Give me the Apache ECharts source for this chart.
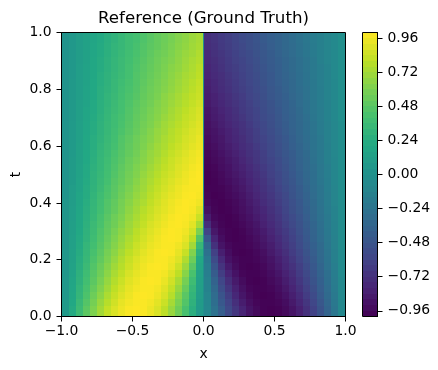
<!DOCTYPE html>
<html>
<head>
<meta charset="utf-8">
<style>
  html, body { margin: 0; padding: 0; background: #fff; }
  #chart { width: 438px; height: 370px; }
</style>
<script src="https://cdn.jsdelivr.net/npm/echarts@6/dist/echarts.min.js"></script>
</head>
<body>
<div id="chart"></div>
<script>
// column edges in x, with a thin column on the shock at x = 0
var xEdges = [-1, -0.95, -0.9, -0.85, -0.8, -0.75, -0.7, -0.65, -0.6, -0.55, -0.5, -0.45, -0.4, -0.35, -0.3, -0.25, -0.2, -0.15, -0.1, -0.05, -0.006,
  0.006, 0.05, 0.1, 0.15, 0.2, 0.25, 0.3, 0.35, 0.4, 0.45, 0.5, 0.55, 0.6, 0.65, 0.7, 0.75, 0.8, 0.85, 0.9, 0.95, 1]
var tEdges = [0, 0.0375, 0.0625, 0.0875, 0.1125, 0.1375, 0.1625, 0.1875, 0.2125, 0.2375, 0.2625, 0.2875, 0.3125, 0.3375, 0.3625, 0.3875, 0.4125, 0.4375, 0.4625, 0.4875,
  0.5125, 0.5375, 0.5625, 0.5875, 0.6125, 0.6375, 0.6625, 0.6875, 0.7125, 0.7375, 0.7625, 0.7875, 0.8125, 0.8375, 0.8625, 0.8875, 0.9125, 0.9375, 0.9625, 1]

// u(x, t), one row per t band from the bottom up
var uRows = [
  [.07,.22,.36,.49,.61,.72,.82,.89,.95,.99,1,.99,.95,.89,.80,.69,.56,.41,.25,.08,0,-.08,-.25,-.41,-.56,-.69,-.80,-.89,-.95,-.99,-1,-.99,-.95,-.89,-.82,-.72,-.61,-.49,-.36,-.22,-.07],
  [.07,.20,.34,.46,.58,.69,.78,.86,.93,.97,.99,.99,.97,.92,.84,.73,.60,.45,.28,.09,0,-.09,-.28,-.45,-.60,-.73,-.84,-.92,-.97,-.99,-.99,-.97,-.93,-.86,-.78,-.69,-.58,-.46,-.34,-.20,-.07],
  [.06,.19,.31,.43,.55,.65,.75,.83,.90,.95,.99,1,.99,.95,.88,.78,.64,.48,.30,.10,0,-.10,-.30,-.48,-.64,-.78,-.88,-.95,-.99,-1,-.99,-.95,-.90,-.83,-.75,-.65,-.55,-.43,-.31,-.19,-.06],
  [.06,.18,.30,.41,.52,.62,.71,.80,.87,.93,.97,.99,.99,.97,.91,.82,.69,.53,.33,.12,0,-.12,-.33,-.53,-.69,-.82,-.91,-.97,-.99,-.99,-.97,-.93,-.87,-.80,-.71,-.62,-.52,-.41,-.30,-.18,-.06],
  [.06,.17,.28,.39,.49,.59,.68,.77,.84,.91,.95,.99,1,.99,.94,.86,.74,.58,.37,.13,0,-.13,-.37,-.58,-.74,-.86,-.94,-.99,-1,-.99,-.95,-.91,-.84,-.77,-.68,-.59,-.49,-.39,-.28,-.17,-.06],
  [.05,.16,.27,.37,.47,.56,.65,.74,.81,.88,.93,.97,.99,.99,.97,.90,.80,.64,.42,.15,0,-.15,-.42,-.64,-.80,-.90,-.97,-.99,-.99,-.97,-.93,-.88,-.81,-.74,-.65,-.56,-.47,-.37,-.27,-.16,-.05],
  [.05,.15,.25,.35,.45,.54,.63,.71,.78,.85,.91,.96,.99,1,.99,.94,.85,.70,.48,.17,0,-.17,-.48,-.70,-.85,-.94,-.99,-1,-.99,-.96,-.91,-.85,-.78,-.71,-.63,-.54,-.45,-.35,-.25,-.15,-.05],
  [.05,.14,.24,.33,.43,.51,.60,.68,.76,.83,.89,.94,.97,.99,.99,.96,.90,.76,.55,.20,0,-.20,-.55,-.76,-.90,-.96,-.99,-.99,-.97,-.94,-.89,-.83,-.76,-.68,-.60,-.51,-.43,-.33,-.24,-.14,-.05],
  [.05,.14,.23,.32,.41,.49,.58,.65,.73,.80,.86,.92,.96,.99,1,.99,.93,.83,.62,.26,0,-.26,-.62,-.83,-.93,-.99,-1,-.99,-.96,-.92,-.86,-.80,-.73,-.65,-.58,-.49,-.41,-.32,-.23,-.14,-.05],
  [.04,.13,.22,.31,.39,.47,.55,.63,.70,.77,.84,.89,.94,.97,.99,.99,.96,.89,.72,.33,0,-.33,-.72,-.89,-.96,-.99,-.99,-.97,-.94,-.89,-.84,-.77,-.70,-.63,-.55,-.47,-.39,-.31,-.22,-.13,-.04],
  [.04,.13,.21,.29,.37,.45,.53,.61,.68,.75,.81,.87,.92,.96,.99,1,.99,.93,.80,.45,0,-.45,-.80,-.93,-.99,-1,-.99,-.96,-.92,-.87,-.81,-.75,-.68,-.61,-.53,-.45,-.37,-.29,-.21,-.13,-.04],
  [.04,.12,.20,.28,.36,.44,.51,.59,.66,.72,.79,.85,.90,.94,.98,1,.99,.96,.87,.60,0,-.60,-.87,-.96,-.99,-1,-.98,-.94,-.90,-.85,-.79,-.72,-.66,-.59,-.51,-.44,-.36,-.28,-.20,-.12,-.04],
  [.04,.12,.19,.27,.35,.42,.50,.56,.63,.70,.76,.82,.88,.92,.96,.99,1,.98,.92,.74,0,-.74,-.92,-.98,-1,-.99,-.96,-.92,-.88,-.82,-.76,-.70,-.63,-.56,-.50,-.42,-.35,-.27,-.19,-.12,-.04],
  [.04,.11,.19,.26,.33,.41,.48,.55,.61,.68,.74,.80,.85,.90,.94,.98,1,.99,.96,.84,0,-.84,-.96,-.99,-1,-.98,-.94,-.90,-.85,-.80,-.74,-.68,-.61,-.55,-.48,-.41,-.33,-.26,-.19,-.11,-.04],
  [.04,.11,.18,.25,.32,.39,.46,.52,.59,.66,.72,.78,.83,.88,.92,.96,.99,1,.98,.91,0,-.91,-.98,-1,-.99,-.96,-.92,-.88,-.83,-.78,-.72,-.66,-.59,-.52,-.46,-.39,-.32,-.25,-.18,-.11,-.04],
  [.04,.10,.17,.24,.31,.38,.45,.51,.58,.64,.70,.75,.81,.86,.91,.95,.98,1,.99,.96,0,-.96,-.99,-1,-.98,-.95,-.91,-.86,-.81,-.75,-.70,-.64,-.58,-.51,-.45,-.38,-.31,-.24,-.17,-.10,-.04],
  [.03,.10,.17,.23,.30,.37,.43,.49,.56,.62,.68,.73,.79,.84,.89,.93,.96,.99,1,.98,0,-.98,-1,-.99,-.96,-.93,-.89,-.84,-.79,-.73,-.68,-.62,-.56,-.49,-.43,-.37,-.30,-.23,-.17,-.10,-.03],
  [.03,.10,.16,.23,.29,.35,.42,.48,.54,.60,.66,.71,.77,.82,.87,.91,.95,.98,.99,.99,0,-.99,-.99,-.98,-.95,-.91,-.87,-.82,-.77,-.71,-.66,-.60,-.54,-.48,-.42,-.35,-.29,-.23,-.16,-.10,-.03],
  [.03,.09,.16,.22,.28,.34,.40,.47,.52,.58,.64,.70,.75,.80,.85,.89,.93,.96,.99,1,0,-1,-.99,-.96,-.93,-.89,-.85,-.80,-.75,-.70,-.64,-.58,-.52,-.47,-.40,-.34,-.28,-.22,-.16,-.09,-.03],
  [.03,.09,.15,.21,.28,.33,.39,.45,.51,.57,.62,.68,.73,.78,.83,.87,.91,.95,.98,1,0,-1,-.98,-.95,-.91,-.87,-.83,-.78,-.73,-.68,-.62,-.57,-.51,-.45,-.39,-.33,-.28,-.21,-.15,-.09,-.03],
  [.03,.09,.15,.21,.27,.32,.38,.44,.50,.55,.61,.66,.71,.76,.81,.85,.90,.93,.97,.99,0,-.99,-.97,-.93,-.90,-.85,-.81,-.76,-.71,-.66,-.61,-.55,-.50,-.44,-.38,-.32,-.27,-.21,-.15,-.09,-.03],
  [.03,.09,.14,.20,.26,.32,.37,.43,.48,.54,.59,.64,.69,.74,.79,.84,.88,.92,.95,.98,0,-.98,-.95,-.92,-.88,-.84,-.79,-.74,-.69,-.64,-.59,-.54,-.48,-.43,-.37,-.32,-.26,-.20,-.14,-.09,-.03],
  [.03,.08,.14,.20,.25,.31,.36,.42,.47,.52,.57,.63,.68,.72,.77,.82,.86,.90,.94,.97,0,-.97,-.94,-.90,-.86,-.82,-.77,-.72,-.68,-.63,-.57,-.52,-.47,-.42,-.36,-.31,-.25,-.20,-.14,-.08,-.03],
  [.03,.08,.14,.19,.24,.30,.35,.40,.46,.51,.56,.61,.66,.71,.75,.80,.84,.88,.92,.95,0,-.95,-.92,-.88,-.84,-.80,-.75,-.71,-.66,-.61,-.56,-.51,-.46,-.40,-.35,-.30,-.24,-.19,-.14,-.08,-.03],
  [.03,.08,.13,.19,.24,.29,.34,.39,.45,.50,.55,.60,.64,.69,.74,.78,.82,.87,.90,.94,0,-.94,-.90,-.87,-.82,-.78,-.74,-.69,-.64,-.60,-.55,-.50,-.45,-.39,-.34,-.29,-.24,-.19,-.13,-.08,-.03],
  [.03,.08,.13,.18,.23,.28,.33,.38,.43,.48,.53,.58,.63,.68,.72,.77,.81,.85,.89,.92,0,-.92,-.89,-.85,-.81,-.77,-.72,-.68,-.63,-.58,-.53,-.48,-.43,-.38,-.33,-.28,-.23,-.18,-.13,-.08,-.03],
  [.03,.08,.13,.18,.23,.28,.33,.37,.42,.47,.52,.57,.61,.66,.71,.75,.79,.83,.87,.91,0,-.91,-.87,-.83,-.79,-.75,-.71,-.66,-.61,-.57,-.52,-.47,-.42,-.37,-.33,-.28,-.23,-.18,-.13,-.08,-.03],
  [.02,.07,.12,.17,.22,.27,.32,.37,.41,.46,.51,.55,.60,.64,.69,.73,.77,.82,.85,.89,0,-.89,-.85,-.82,-.77,-.73,-.69,-.64,-.60,-.55,-.51,-.46,-.41,-.37,-.32,-.27,-.22,-.17,-.12,-.07,-.02],
  [.02,.07,.12,.17,.21,.26,.31,.36,.40,.45,.50,.54,.59,.63,.67,.72,.76,.80,.84,.88,0,-.88,-.84,-.80,-.76,-.72,-.67,-.63,-.59,-.54,-.50,-.45,-.40,-.36,-.31,-.26,-.21,-.17,-.12,-.07,-.02],
  [.02,.07,.12,.16,.21,.26,.30,.35,.40,.44,.49,.53,.57,.62,.66,.70,.74,.78,.82,.86,0,-.86,-.82,-.78,-.74,-.70,-.66,-.62,-.57,-.53,-.49,-.44,-.40,-.35,-.30,-.26,-.21,-.16,-.12,-.07,-.02],
  [.02,.07,.11,.16,.20,.25,.30,.34,.39,.43,.47,.52,.56,.60,.65,.69,.73,.77,.81,.84,0,-.84,-.81,-.77,-.73,-.69,-.65,-.60,-.56,-.52,-.47,-.43,-.39,-.34,-.30,-.25,-.20,-.16,-.11,-.07,-.02],
  [.02,.07,.11,.16,.20,.25,.29,.33,.38,.42,.46,.51,.55,.59,.63,.67,.71,.75,.79,.83,0,-.83,-.79,-.75,-.71,-.67,-.63,-.59,-.55,-.51,-.46,-.42,-.38,-.33,-.29,-.25,-.20,-.16,-.11,-.07,-.02],
  [.02,.07,.11,.15,.20,.24,.28,.33,.37,.41,.45,.50,.54,.58,.62,.66,.70,.74,.78,.82,0,-.82,-.78,-.74,-.70,-.66,-.62,-.58,-.54,-.50,-.45,-.41,-.37,-.33,-.28,-.24,-.20,-.15,-.11,-.07,-.02],
  [.02,.06,.11,.15,.19,.24,.28,.32,.36,.40,.45,.49,.53,.57,.61,.65,.69,.73,.76,.80,0,-.80,-.76,-.73,-.69,-.65,-.61,-.57,-.53,-.49,-.45,-.40,-.36,-.32,-.28,-.24,-.19,-.15,-.11,-.06,-.02],
  [.02,.06,.11,.15,.19,.23,.27,.31,.35,.40,.44,.48,.52,.56,.60,.64,.67,.71,.75,.79,0,-.79,-.75,-.71,-.67,-.64,-.60,-.56,-.52,-.48,-.44,-.40,-.35,-.31,-.27,-.23,-.19,-.15,-.11,-.06,-.02],
  [.02,.06,.10,.14,.19,.23,.27,.31,.35,.39,.43,.47,.51,.55,.59,.62,.66,.70,.74,.77,0,-.77,-.74,-.70,-.66,-.62,-.59,-.55,-.51,-.47,-.43,-.39,-.35,-.31,-.27,-.23,-.19,-.14,-.10,-.06,-.02],
  [.02,.06,.10,.14,.18,.22,.26,.30,.34,.38,.42,.46,.50,.54,.57,.61,.65,.69,.72,.76,0,-.76,-.72,-.69,-.65,-.61,-.57,-.54,-.50,-.46,-.42,-.38,-.34,-.30,-.26,-.22,-.18,-.14,-.10,-.06,-.02],
  [.02,.06,.10,.14,.18,.22,.26,.30,.33,.37,.41,.45,.49,.52,.56,.60,.64,.67,.71,.74,0,-.74,-.71,-.67,-.64,-.60,-.56,-.52,-.49,-.45,-.41,-.37,-.33,-.30,-.26,-.22,-.18,-.14,-.10,-.06,-.02],
  [.02,.06,.10,.14,.17,.21,.25,.29,.33,.37,.40,.44,.48,.52,.55,.59,.63,.66,.70,.73,0,-.73,-.70,-.66,-.63,-.59,-.55,-.52,-.48,-.44,-.40,-.37,-.33,-.29,-.25,-.21,-.17,-.14,-.10,-.06,-.02]
]

// colorbar band centres, and its tick labels
var barBands = [-.98, -.94, -.9, -.86, -.82, -.78, -.74, -.7, -.66, -.62, -.58, -.54, -.5, -.46, -.42, -.38, -.34, -.3, -.26, -.22, -.18, -.14, -.1, -.06, -.02,
  .02, .06, .1, .14, .18, .22, .26, .3, .34, .38, .42, .46, .5, .54, .58, .62, .66, .7, .74, .78, .82, .86, .9, .94, .98]
var barTicks = [-0.96, -0.72, -0.48, -0.24, 0, 0.24, 0.48, 0.72, 0.96]

var viridis = ['#440154', '#482475', '#414487', '#355f8d', '#2a788e', '#21918c', '#22a884', '#44bf70', '#7ad151', '#bddf26', '#fde725']

var fontFamily = '"DejaVu Sans"'
var fontSize = 13.9

function minusSign(text) {
  return text.replace('-', '\u2212')
}

function renderCell(params, api) {
  var a = api.coord([api.value(0), api.value(2)])
  var b = api.coord([api.value(1), api.value(3)])
  // snap to whole pixels so no seams show between cells
  var left = Math.round(a[0])
  var right = Math.round(b[0])
  var bottom = Math.round(a[1])
  var top = Math.round(b[1])
  return {
    type: 'rect',
    shape: { x: left, y: top, width: right - left, height: bottom - top },
    style: { fill: api.visual('color') }
  }
}

var fieldCells = []
uRows.forEach(function(row, j) {
  row.forEach(function(u, i) {
    fieldCells.push([xEdges[i], xEdges[i + 1], tEdges[j], tEdges[j + 1], u])
  })
})

var barCells = barBands.map(function(c) {
  return [0, 1, c - 0.02, c + 0.02, c]
})

var axisLine = { show: true, onZero: false, lineStyle: { color: '#000', width: 1 }}
var axisTick = { show: true, length: 5, lineStyle: { color: '#000', width: 1 }}
var frame = { show: true, z: 5, outerBoundsMode: 'none', backgroundColor: 'transparent', borderColor: '#000', borderWidth: 1 }

var chart = echarts.init(document.getElementById('chart'), null, { renderer: 'canvas' })

chart.setOption({
  animation: false,
  backgroundColor: '#fff',
  textStyle: { fontFamily: fontFamily },
  title: {
    text: 'Reference (Ground Truth)',
    left: 198.5,
    top: 5,
    textAlign: 'center',
    textStyle: { fontFamily: fontFamily, fontSize: 16.67, fontWeight: 'normal', color: '#000' }
  },
  grid: [
    Object.assign({ left: 61.5, top: 32.5, width: 284, height: 284 }, frame),
    Object.assign({ left: 362.5, top: 32.5, width: 15, height: 284 }, frame)
  ],
  visualMap: {
    show: false,
    type: 'continuous',
    min: -1,
    max: 1,
    dimension: 4,
    seriesIndex: [0, 1],
    inRange: { color: viridis }
  },
  xAxis: [{
    type: 'value',
    gridIndex: 0,
    z: 6,
    min: -1,
    max: 1,
    interval: 0.5,
    name: 'x',
    nameLocation: 'middle',
    nameGap: 31,
    nameTextStyle: { color: '#000', fontSize: fontSize, fontFamily: fontFamily },
    axisLine: axisLine,
    axisTick: axisTick,
    splitLine: { show: false },
    axisLabel: {
      color: '#000',
      fontSize: fontSize,
      fontFamily: fontFamily,
      margin: 8,
      hideOverlap: false,
      formatter: function(v) { return minusSign(v.toFixed(1)) }
    }
  }, {
    type: 'value',
    gridIndex: 1,
    min: 0,
    max: 1,
    show: false
  }],
  yAxis: [{
    type: 'value',
    gridIndex: 0,
    z: 6,
    min: 0,
    max: 1,
    interval: 0.2,
    name: 't',
    nameLocation: 'middle',
    nameGap: 38,
    nameMoveOverlap: false,
    nameTextStyle: { color: '#000', fontSize: fontSize, fontFamily: fontFamily },
    axisLine: axisLine,
    axisTick: axisTick,
    splitLine: { show: false },
    axisLabel: {
      color: '#000',
      fontSize: fontSize,
      fontFamily: fontFamily,
      margin: 10,
      formatter: function(v) { return v.toFixed(1) }
    }
  }, {
    type: 'value',
    gridIndex: 1,
    z: 6,
    position: 'right',
    min: -1,
    max: 1,
    axisLine: axisLine,
    axisTick: Object.assign({ customValues: barTicks }, axisTick),
    splitLine: { show: false },
    axisLabel: {
      customValues: barTicks,
      color: '#000',
      fontSize: fontSize,
      fontFamily: fontFamily,
      margin: 10,
      formatter: function(v) { return minusSign(v.toFixed(2)) }
    }
  }],
  series: [{
    type: 'custom',
    name: 'u',
    xAxisIndex: 0,
    yAxisIndex: 0,
    renderItem: renderCell,
    encode: { x: [0, 1], y: [2, 3] },
    data: fieldCells
  }, {
    type: 'custom',
    name: 'colorbar',
    xAxisIndex: 1,
    yAxisIndex: 1,
    renderItem: renderCell,
    encode: { x: [0, 1], y: [2, 3] },
    data: barCells
  }]
})
</script>
</body>
</html>
